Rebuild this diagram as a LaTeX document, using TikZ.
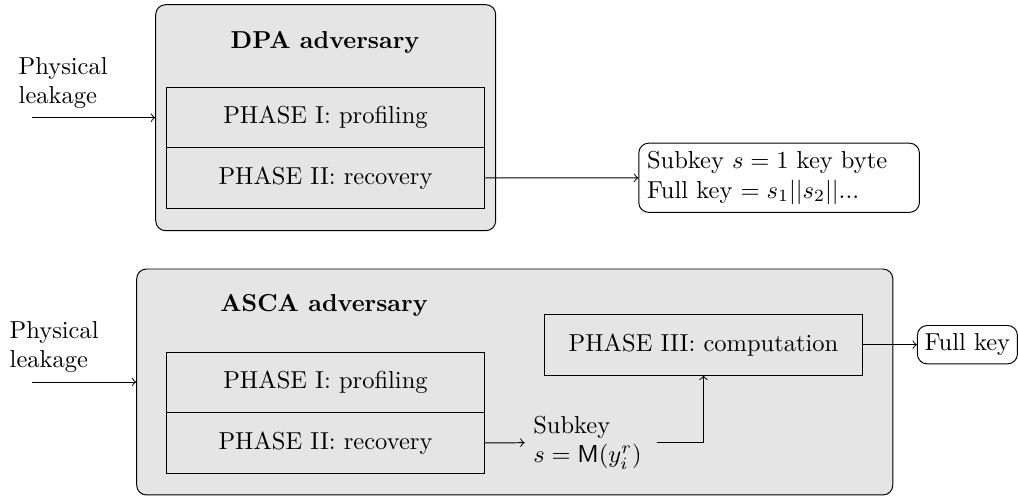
\documentclass[tikz,border=0pt]{standalone}
\usetikzlibrary{positioning}
\begin{document}
\begin{tikzpicture}[x=0.408pt,y=-0.408pt,
  outerbox/.style={draw, rounded corners, fill=gray!20, minimum width=#1, minimum height=92.2pt, inner sep=0pt},
  phasebox/.style={draw, minimum width=129.6pt, minimum height=24.6pt, inner sep=0pt},
  titletext/.style={font=\bfseries},
  plaintext/.style={align=left, inner sep=3.35pt},
  keybox/.style={draw, rounded corners},
  conn/.style={->}
]
\useasboundingbox (0,0) rectangle (1018,496);

% ---------- DPA ----------
\node[outerbox=138.7pt] (dpa) at (325.7,117.7) {};
\node[titletext] (dpatitle) at (325,42.5) {DPA adversary};
\node[phasebox] (dp1) at (325.5,117.7) {PHASE I: profiling};
\node[phasebox] (dp2) at (325.5,178) {PHASE II: recovery};
\node[plaintext, anchor=west] (leak1) at (10,83.3) {Physical\\leakage};
\coordinate (in1) at (32.3,117.7);
\draw[conn] (in1) -- (dpa.west);
\node[keybox, align=left, text width=107.8pt, inner xsep=3.35pt, minimum height=27.6pt, anchor=west] (dpaout) at (638.3,177.8)
  {Subkey $s=1$ key byte\\Full key $=s_1||s_2||$...};
\draw[conn] (dp2.east) -- (dpaout.west);

% ---------- ASCA ----------
\node[outerbox=308.5pt] (asca) at (514.75,382) {};
\node[titletext] (ascatitle) at (324,305.5) {ASCA adversary};
\node[phasebox] (ap1) at (325.5,382.5) {PHASE I: profiling};
\node[phasebox] (ap2) at (325.5,443) {PHASE II: recovery};
\node[phasebox, minimum width=129.8pt, minimum height=24.8pt] (ap3) at (703.5,344.7) {PHASE III: computation};
\node[plaintext, anchor=west] (leak2) at (1,347.3) {Physical\\leakage};
\coordinate (in2) at (32.3,382);
\draw[conn] (in2) -- (asca.west);
\node[plaintext, text width=46.8pt, anchor=west] (sub) at (524.6,442.7) {Subkey\\$s=\mathsf{M}(y_i^r)$};
\draw[conn] (ap2.east) -- (sub.west);
\draw[conn] (sub.east) -| (ap3.south);
\node[keybox, minimum width=40.8pt, minimum height=15.6pt, inner xsep=2.4pt, anchor=west] (full) at (916.9,344.7) {Full key};
\draw[conn] (ap3.east) -- (full.west);
\end{tikzpicture}
\end{document}
